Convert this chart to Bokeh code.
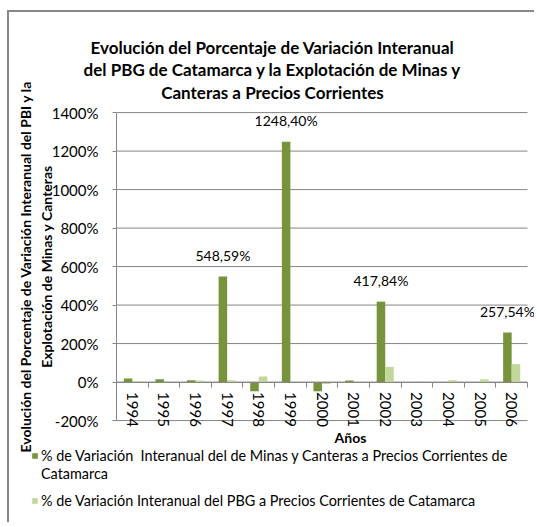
from bokeh.plotting import figure
from bokeh.models import (ColumnDataSource, FixedTicker, PrintfTickFormatter, LinearAxis,
                          Label, Legend, LegendItem, Range1d)
from bokeh.transform import dodge
from bokeh.core.properties import value
from bokeh.embed import file_html
from bokeh.resources import INLINE

# ---- data ----
years = ["1994", "1995", "1996", "1997", "1998", "1999", "2000",
         "2001", "2002", "2003", "2004", "2005", "2006"]
minas = [18, 15, 10, 548.59, -48, 1248.40, -48, 8, 417.84, 0, -5, 0, 257.54]
pbg = [4, 3, 8, 10, 29, 2, -10, 1, 79, 1, 10, 14, 93]

label_years = ["1997", "1999", "2002", "2006"]
label_values = [548.59, 1248.40, 417.84, 257.54]
label_texts = ["548,59%", "1248,40%", "417,84%", "257,54%"]

y_ticks = [-200, 0, 200, 400, 600, 800, 1000, 1200, 1400]

title_text = ("Evolución del Porcentaje de Variación Interanual\n"
              "del PBG de Catamarca y la Explotación de Minas y\n"
              "Canteras a Precios Corrientes")
y_label = ("Evolución del Porcentaje de Variación Interanual del PBI y la\n"
           "Explotación de Minas y Canteras")
x_label = "Años"
name_minas_1 = "% de Variación  Interanual del de Minas y Canteras a Precios Corrientes de"
name_minas_2 = "Catamarca"
name_pbg = "% de Variación Interanual del PBG a Precios Corrientes de Catamarca"

DARK = "#77933C"
LIGHT = "#C3D69B"
GRID = "#868686"
FONT = "Lato"

# category positions (one unit per year)
xs = list(range(len(years)))
lo, hi = xs[0] - 0.5, xs[-1] + 0.5

src = ColumnDataSource(dict(x=xs, minas=minas, pbg=pbg))
lsrc = ColumnDataSource(dict(x=[years.index(y) for y in label_years],
                             vals=label_values, txt=label_texts))
gsrc = ColumnDataSource(dict(y=y_ticks, x0=[lo] * len(y_ticks), x1=[hi] * len(y_ticks)))

# the frame fills the whole canvas; ranges leave room for titles and legend
p = figure(width=527, height=512, output_backend="svg", toolbar_location=None,
           x_range=Range1d(lo - 3.385, hi + 0.285), y_range=Range1d(-740, 1920),
           x_axis_location=None, y_axis_location=None,
           min_border=0, min_border_left=0, min_border_right=0,
           min_border_top=0, min_border_bottom=0,
           styles={"margin-left": "7px", "margin-top": "10px",
                   "border-left": "2px solid #878787", "border-top": "2px solid #878787"})
p.outline_line_color = None
p.background_fill_color = "white"
p.border_fill_color = "white"
p.xgrid.grid_line_color = None
p.ygrid.grid_line_color = None

# horizontal gridlines across the plot area
p.segment(x0="x0", y0="y", x1="x1", y1="y", source=gsrc, line_color=GRID, line_width=1)

W = 0.27
r1 = p.vbar(x=dodge("x", -W / 2), top="minas", bottom=0, width=W,
            source=src, fill_color=DARK, line_color=None)
r2 = p.vbar(x=dodge("x", W / 2), top="pbg", bottom=0, width=W,
            source=src, fill_color=LIGHT, line_color=None)
# invisible renderer used only for the wrapped second line of the first legend entry
r_wrap = p.vbar(x=[], top=[], width=W, fill_alpha=0, line_alpha=0)

p.text(x=dodge("x", -W / 2), y="vals", text="txt", source=lsrc,
       text_align="center", text_baseline="middle", y_offset=-21,
       text_font=value(FONT), text_font_size="14px", text_color="#000000")

# y axis at the left edge of the category area
yaxis = LinearAxis(fixed_location=lo, bounds=(y_ticks[0], y_ticks[-1]),
                   ticker=FixedTicker(ticks=y_ticks),
                   formatter=PrintfTickFormatter(format="%d%%"))
yaxis.axis_line_color = GRID
yaxis.major_tick_line_color = GRID
yaxis.major_tick_out = 4
yaxis.major_tick_in = 0
yaxis.minor_tick_line_color = None
yaxis.major_label_standoff = 14
yaxis.major_label_text_font = FONT
yaxis.major_label_text_font_size = "15px"
yaxis.major_label_text_color = "#000000"
yaxis.axis_label = y_label
yaxis.axis_label_text_font = FONT
yaxis.axis_label_text_font_size = "14px"
yaxis.axis_label_text_font_style = "bold"
yaxis.axis_label_text_color = "#000000"
yaxis.axis_label_standoff = -6
p.add_layout(yaxis, "left")

# category axis on the zero line
xaxis = LinearAxis(fixed_location=0, bounds=(lo, hi),
                   ticker=FixedTicker(ticks=xs, minor_ticks=[x + 0.5 for x in xs]),
                   major_label_overrides={x: y for x, y in zip(xs, years)})
xaxis.axis_line_color = GRID
xaxis.major_tick_line_color = None
xaxis.major_tick_out = 0
xaxis.major_tick_in = 0
xaxis.minor_tick_line_color = GRID
xaxis.minor_tick_out = 5
xaxis.minor_tick_in = 0
xaxis.major_label_orientation = "vertical"
xaxis.major_label_standoff = 5
xaxis.major_label_text_font = FONT
xaxis.major_label_text_font_size = "15px"
xaxis.major_label_text_color = "#000000"
p.add_layout(xaxis, "below")

# chart title
p.add_layout(Label(x=263, y=488, x_units="screen", y_units="screen", text=title_text,
                   text_align="center", text_baseline="top", text_font=FONT,
                   text_font_size="17px", text_font_style="bold", text_color="#000000",
                   text_line_height=1.08))
# x axis title
p.add_layout(Label(x=341, y=87, x_units="screen", y_units="screen", text=x_label,
                   text_align="center", text_baseline="middle", text_font=FONT,
                   text_font_size="14px", text_font_style="bold", text_color="#000000"))

legend_style = dict(orientation="vertical", glyph_width=7, glyph_height=7,
                    label_standoff=3, spacing=0, padding=0, margin=0,
                    border_line_color=None, background_fill_alpha=0,
                    label_text_font=FONT, label_text_font_size="14.4px",
                    label_text_color="#000000", label_height=18)
legend_a = Legend(items=[LegendItem(label=name_minas_1, renderers=[r1]),
                         LegendItem(label=name_minas_2, renderers=[r_wrap])],
                  location=(22, 42), **legend_style)
legend_b = Legend(items=[LegendItem(label=name_pbg, renderers=[r2])],
                  location=(22, 15), **legend_style)
p.add_layout(legend_a)
p.add_layout(legend_b)

open("out.html", "w").write(file_html(p, INLINE))
